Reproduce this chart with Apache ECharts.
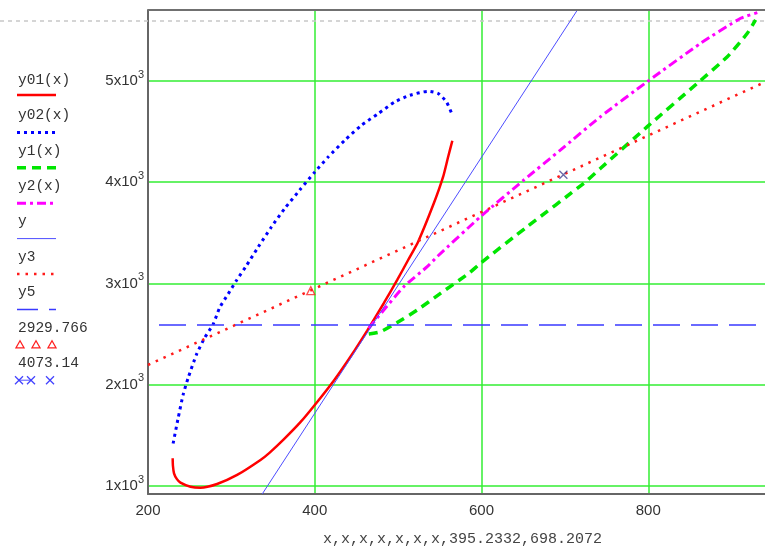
<!DOCTYPE html>
<html>
<head>
<meta charset="utf-8">
<script src="https://cdn.jsdelivr.net/npm/echarts@6/dist/echarts.min.js"></script>
<style>
  html, body { margin: 0; padding: 0; background: #fff; }
  #chart { width: 765px; height: 553px; }
</style>
</head>
<body>
<div id="chart"></div>
<script>
// 曲线数据 [x, y]
const y01 = [[229.6,1274],[229.9,1200],[231.2,1125],[234.5,1070],[238.9,1033],[250.9,993],[262.9,983],
  [282.9,1020],[306.9,1109],[334.9,1257],[346,1330],[362.8,1460],[382.8,1630],[400,1800],[422.8,2040],
  [442.8,2277],[462.9,2535],[482.8,2805],[498.9,3035],[512,3232],[524,3413],[542.8,3792],
  [554,4055],[560,4252],[565,4410]];
const y02 = [[230.1,1419],[236.1,1668],[242.1,1900],[248.1,2066],[258.1,2298],[268,2464],
  [278.1,2597],[286,2762],[296.1,2896],[306.1,3030],[318.1,3177],[332.1,3359],[348,3558],
  [364,3741],[382,3923],[400,4100],[416.1,4249],[436,4414],[456,4562],[476.1,4678],
  [496,4793],[514,4859],[536,4898],[548,4876],[558,4793],[564,4684]];
const y1 = [[464.8,2501],[478.8,2524],[498.9,2615],[522.9,2738],[550.8,2903],[584.8,3101],
  [598.8,3200],[654.8,3561],[722.7,3990],[742.8,4138],[798.8,4549],[858.8,4977],[894.8,5240],
  [918.8,5471],[928.7,5603]];
const y2 = [[464.8,2558],[482.8,2738],[506.8,2968],[534.9,3166],[546.8,3265],[598.8,3660],
  [650.8,4022],[694.8,4319],[742.8,4648],[798.8,4993],[862.8,5372],[910.8,5619],[930.8,5675]];
const yLine = [[337,921],[715,5701]];
const y3 = [[200,2195],[940,4990]];
const y5 = [[200,2590],[940,2590]];
const pointA = [[395.2332,2929.766]];
const pointB = [[698.2072,4073.14]];

// 刻度
const xTicks = [200, 400, 600, 800];
const yTicks = [1000, 2000, 3000, 4000, 5000];

// 图例文字
const legendNames = ['y01(x)', 'y02(x)', 'y1(x)', 'y2(x)', 'y', 'y3', 'y5', '2929.766', '4073.14'];

const lineStyles = [
  { color: '#ff0000', width: 2.5, type: 'solid' },
  { color: '#0000ff', width: 3, type: [3, 4] },
  { color: '#00e600', width: 3.5, type: [9, 6] },
  { color: '#ff00ff', width: 3, type: [9, 4, 3, 4] },
  { color: '#4d4dff', width: 1, type: 'solid' },
  { color: '#ff1a1a', width: 2.5, type: [2.5, 6] },
  { color: '#3a3aff', width: 1.5, type: [27, 11], dashOffset: 27 }
];
const curves = [y01, y02, y1, y2, yLine, y3, y5];

const chart = echarts.init(document.getElementById('chart'));

const series = curves.map((d, i) => ({
  name: legendNames[i],
  type: 'line',
  data: d,
  showSymbol: false,
  smooth: i < 4 ? 0.2 : false,
  lineStyle: lineStyles[i],
  z: 3 + i,
  silent: true
}));

series.push({
  name: legendNames[7],
  type: 'scatter',
  data: pointA,
  symbol: 'triangle',
  symbolSize: 8,
  itemStyle: { color: 'rgba(0,0,0,0)', borderColor: '#ff2020', borderWidth: 1.3 },
  z: 12
});
series.push({
  name: legendNames[8],
  type: 'scatter',
  data: pointB,
  symbol: 'path://M0,0L10,10M10,0L0,10',
  symbolSize: 8,
  itemStyle: { color: 'rgba(0,0,0,0)', borderColor: '#404090', borderWidth: 1.3 },
  z: 12
});

// 左侧图例（文字在上，线型在下）
const legendGraphics = [];
legendNames.forEach((name, i) => {
  const ty = 80 + i * 35.4;
  legendGraphics.push({
    type: 'text',
    style: { text: name, x: 18, y: ty, fill: '#333', font: '14.5px "Liberation Mono"', verticalAlign: 'middle' }
  });
  const ly = ty + (i === 0 ? 15 : 17);
  if (i < 7) {
    const s = lineStyles[i];
    const dash = i === 6 ? [21, 11] : (s.type === 'solid' ? null : s.type);
    legendGraphics.push({
      type: 'line',
      shape: { x1: 17, y1: ly, x2: 56, y2: ly },
      style: { stroke: s.color, lineWidth: s.width, lineDash: dash }
    });
  } else if (i === 7) {
    [20, 36, 52].forEach(cx => {
      legendGraphics.push({
        type: 'polygon',
        shape: { points: [[cx, ly - 4], [cx + 4, ly + 3], [cx - 4, ly + 3]] },
        style: { fill: 'none', stroke: '#ff2020', lineWidth: 1.3 }
      });
    });
  } else {
    legendGraphics.push({
      type: 'line', shape: { x1: 18, y1: ly, x2: 31, y2: ly },
      style: { stroke: '#5050ff', lineWidth: 1 }
    });
    [19, 31, 50].forEach(cx => {
      legendGraphics.push({
        type: 'polyline', shape: { points: [[cx - 4, ly - 4], [cx + 4, ly + 4]] },
        style: { stroke: '#4040ff', lineWidth: 1.3, fill: 'none' }
      });
      legendGraphics.push({
        type: 'polyline', shape: { points: [[cx + 4, ly - 4], [cx - 4, ly + 4]] },
        style: { stroke: '#4040ff', lineWidth: 1.3, fill: 'none' }
      });
    });
  }
});

// 顶部虚线和边框
legendGraphics.push({
  type: 'line', z: 1,
  shape: { x1: 0, y1: 21, x2: 765, y2: 21 },
  style: { stroke: '#c8c8c8', lineWidth: 1.5, lineDash: [4, 4] }
});
legendGraphics.push({
  type: 'line', z: 20,
  shape: { x1: 148, y1: 10, x2: 765, y2: 10 },
  style: { stroke: '#707070', lineWidth: 2 }
});

const option = {
  animation: false,
  grid: { left: 148, right: 0, top: 10, bottom: 59, containLabel: false, outerBoundsMode: 'none' },
  xAxis: {
    type: 'value',
    min: 200,
    max: 940,
    name: 'x,x,x,x,x,x,x,395.2332,698.2072',
    nameLocation: 'middle',
    nameGap: 38,
    nameTextStyle: { fontFamily: 'Liberation Mono', fontSize: 15, color: '#444', padding: [0, 0, 0, 12] },
    axisLine: { show: true, onZero: false, lineStyle: { color: '#666', width: 2 } },
    axisTick: { show: false, customValues: xTicks },
    axisLabel: { customValues: xTicks, margin: 9, fontFamily: 'Liberation Sans', fontSize: 15, color: '#333' },
    splitLine: { show: true, lineStyle: { color: '#33ee33', width: 1.5 } }
  },
  yAxis: {
    type: 'value',
    min: 921,
    max: 5701,
    axisLine: { show: true, onZero: false, lineStyle: { color: '#666', width: 2 } },
    axisTick: { show: false, customValues: yTicks },
    axisLabel: {
      customValues: yTicks,
      margin: 4,
      formatter: v => '{n|' + (v / 1000) + 'x10}{s|3}',
      rich: {
        n: { fontFamily: 'Liberation Sans', fontSize: 15, color: '#333', lineHeight: 24 },
        s: { fontFamily: 'Liberation Sans', fontSize: 11, color: '#333', lineHeight: 11, verticalAlign: 'top' }
      }
    },
    splitLine: { show: true, lineStyle: { color: '#33ee33', width: 1.5 } }
  },
  graphic: legendGraphics,
  series: series
};

chart.setOption(option);
</script>
</body>
</html>
